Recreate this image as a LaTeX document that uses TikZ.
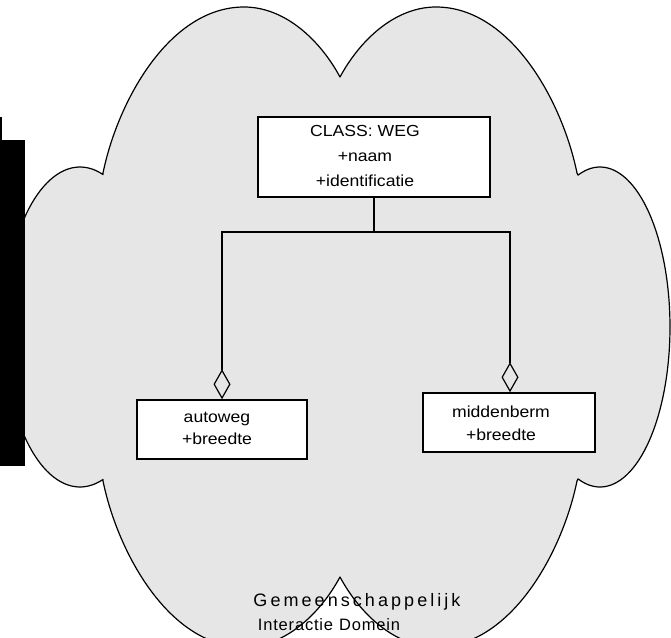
\documentclass[tikz,border=0pt]{standalone}
\usepackage{fontspec}
\setmainfont{Liberation Sans}
\newfontfamily\boxfont[FakeStretch=1.1]{Liberation Sans}
\newfontfamily\domfont[LetterSpace=17]{Liberation Sans}
\newfontfamily\domfontb[LetterSpace=5]{Liberation Sans}
\usetikzlibrary{arrows.meta}
\definecolor{cloudgray}{RGB}{230,230,230}

\begin{document}
\begin{tikzpicture}[x=1pt,y=-1pt,
  umlbox/.style={draw=black, fill=white, line width=1.5pt, inner sep=0pt},
  boxtext/.style={align=center, inner sep=0pt},
  link/.style={draw=black, line width=1.2pt},
  aggr/.style={link, -{Diamond[open, length=30pt, width=17pt, line width=1.2pt]}},
]
\useasboundingbox (0,0) rectangle (671,637);
\fill[white] (0,0) rectangle (671,637);

% cloud outline: arched top and bottom lobes, elliptical side lobes
\begin{scope}
\clip (0,0) rectangle (671,637);
\filldraw[fill=cloudgray, draw=black, line width=1.2pt, line join=round]
  (103,173) .. controls (118,100) and (170,7) .. (244,7)
            .. controls (285,7) and (320,40) .. (340,77)
            .. controls (360,40) and (395,7) .. (436,7)
            .. controls (510,7) and (562,100) .. (577,173)
  -- plot[domain=251.7:468.3, samples=80] ({600+70*cos(\x)},{327+160*sin(\x)})
  -- (577,481) .. controls (562,554) and (510,647) .. (436,647)
            .. controls (395,647) and (360,614) .. (340,577)
            .. controls (320,614) and (285,647) .. (244,647)
            .. controls (170,647) and (118,554) .. (103,481)
  -- plot[domain=72.4:287.6, samples=80] ({80+76*cos(\x)},{327+160*sin(\x)})
  -- cycle;
\end{scope}

% black bar on the left edge
\fill[black] (0,140) rectangle (25,466);
\fill[black] (0,117) rectangle (1.5,140);

% classes
\node[umlbox, minimum width=232pt, minimum height=80pt] (weg) at (374,157) {};
\node[boxtext, font=\boxfont\fontsize{16}{25}\selectfont] (wegtxt) at (365,156) {CLASS: WEG\\+naam\\+identificatie};

\node[umlbox, minimum width=170pt, minimum height=59pt] (autoweg) at (222,429.5) {};
\node[boxtext, font=\boxfont\fontsize{16}{22}\selectfont] (autowegtxt) at (217,428) {autoweg\\+breedte};

\node[umlbox, minimum width=172pt, minimum height=59pt] (midden) at (509,422.5) {};
\node[boxtext, font=\boxfont\fontsize{16}{23}\selectfont] (middentxt) at (501,423) {middenberm\\+breedte};

% aggregation connectors
\coordinate (hub) at (374,232);
\coordinate (jl) at (222,232);
\coordinate (jr) at (510,232);
\draw[link] (hub |- weg.south) -- (hub);
\draw[aggr] (hub) -| (jl |- autoweg.north);
\draw[aggr] (hub) -| (jr |- midden.north);

% domain caption
\node[anchor=base, inner sep=0pt, font=\domfont\fontsize{18}{18}\selectfont] (gem) at (357,606) {Gemeenschappelijk};
\node[anchor=base, inner sep=0pt, font=\domfontb\fontsize{16.5}{16.5}\selectfont] (dom) at (329,630) {Interactie\hspace{6pt}Domein};
\end{tikzpicture}
\end{document}
